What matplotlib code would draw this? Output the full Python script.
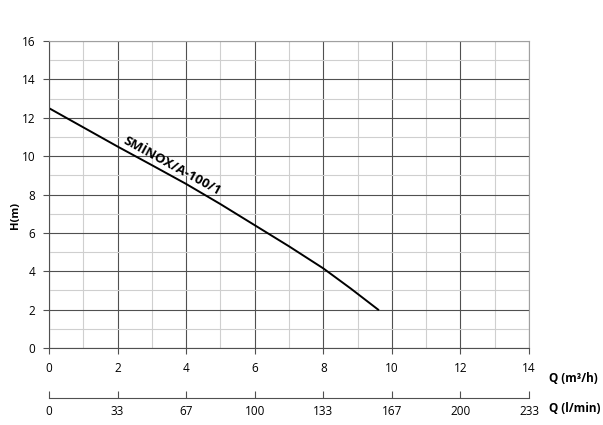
import numpy as np
import matplotlib.pyplot as plt
from matplotlib.ticker import MultipleLocator

# pump curve
q_m3h = [0, 1, 2, 3, 4, 5, 6, 7, 8, 8.8, 9.6]
h_m = [12.5, 11.5, 10.5, 9.53, 8.55, 7.5, 6.4, 5.3, 4.15, 3.1, 2.0]

x_ticks = [0, 2, 4, 6, 8, 10, 12, 14]
y_ticks = [0, 2, 4, 6, 8, 10, 12, 14, 16]
lmin_labels = ["0", "33", "67", "100", "133", "167", "200", "233"]

plt.rcParams['font.family'] = ['Open Sans', 'DejaVu Sans']

W, H = 603, 425
fig = plt.figure(figsize=(W / 100, H / 100), dpi=100)

# main axes
ax = fig.add_axes([49 / W, 1 - 348 / H, 480 / W, 307 / H])
ax.plot(q_m3h, h_m, color='black', lw=1.4)
ax.set_xlim(0, 14)
ax.set_ylim(0, 16)
ax.set_xticks(x_ticks)
ax.set_yticks(y_ticks)
ax.xaxis.set_minor_locator(MultipleLocator(1))
ax.yaxis.set_minor_locator(MultipleLocator(1))
ax.grid(which='major', color='#505050', lw=0.8)
ax.grid(which='minor', color='#cfcfcf', lw=0.8)
ax.set_axisbelow(True)
ax.tick_params(which='major', length=4, width=0.8, labelsize=8.5, pad=6, color='#505050')
ax.tick_params(which='minor', length=0)
for s in ['top', 'right']:
    ax.spines[s].set_color('#a0a0a0')
for s in ['left', 'bottom']:
    ax.spines[s].set_color('#505050')

ax.text(3.5, 9.2, "SMİNOX/A-100/1", rotation=-28.6, rotation_mode='anchor',
        ha='center', va='bottom', fontsize=9.5, fontweight='bold')

fig.text(15 / W, 1 - 215 / H, "H(m)", rotation=90, ha='center', va='center',
         fontsize=8, fontweight='bold')
fig.text(549 / W, 1 - 378 / H, "Q (m³/h)", ha='left', va='center',
         fontsize=8.5, fontweight='bold')
fig.text(549 / W, 1 - 408 / H, "Q (l/min)", ha='left', va='center',
         fontsize=8.5, fontweight='bold')

# second flow axis in l/min
ax2 = fig.add_axes([49 / W, 1 - 398 / H, 480 / W, 0.5 / H])
ax2.set_xlim(0, 14)
ax2.set_yticks([])
ax2.set_xticks(x_ticks)
ax2.set_xticklabels(lmin_labels)
for s in ['top', 'left', 'right']:
    ax2.spines[s].set_visible(False)
ax2.spines['bottom'].set_color('#505050')
ax2.tick_params(axis='x', direction='in', length=5, width=0.8, labelsize=8.5,
                pad=5, color='#505050')
ax2.patch.set_visible(False)

fig.savefig("out.png", dpi=100)
